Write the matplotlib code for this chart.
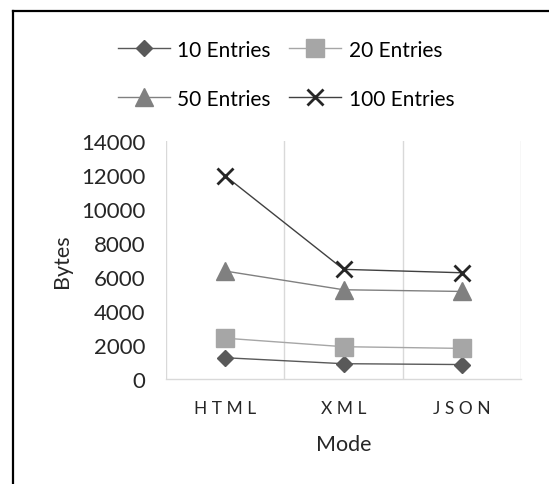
import matplotlib
matplotlib.use("Agg")
import matplotlib.pyplot as plt
from matplotlib.lines import Line2D

plt.rcParams['font.family'] = ['Lato', 'DejaVu Sans']

modes = ["HTML", "XML", "JSON"]
mode_labels = ["H T M L", "X M L", "J S O N"]
series_names = ["10 Entries", "20 Entries", "50 Entries", "100 Entries"]
entries_10 = [1250, 900, 850]
entries_20 = [2400, 1900, 1800]
entries_50 = [6350, 5250, 5150]
entries_100 = [11950, 6450, 6250]
y_ticks = [0, 2000, 4000, 6000, 8000, 10000, 12000, 14000]

styles = [
    dict(marker="D", ms=8.5, color="#595959", mfc="#595959", mec="#595959", lw=1.0),
    dict(marker="s", ms=12.5, color="#a6a6a6", mfc="#a6a6a6", mec="#a6a6a6", lw=1.0),
    dict(marker="^", ms=12.5, color="#808080", mfc="#808080", mec="#808080", lw=1.0),
    dict(marker="x", ms=11.5, color="#404040", mfc="#262626", mec="#262626", lw=1.0, mew=2.0),
]

fig = plt.figure(figsize=(5.49, 4.85), dpi=100)
ax = fig.add_axes([0.3024, 0.2165, 0.6466, 0.4907])

x = list(range(len(modes)))
handles = []
for name, vals, st in zip(series_names, [entries_10, entries_20, entries_50, entries_100], styles):
    h, = ax.plot(x, vals, label=name, **st)
    handles.append(h)

ax.set_xlim(-0.5, len(modes) - 0.5)
ax.set_ylim(0, 14000)
ax.set_yticks(y_ticks)
ax.set_yticklabels([str(v) for v in y_ticks], fontsize=16, color="#262626")
ax.set_xticks(x)
ax.set_xticklabels(mode_labels, fontsize=12.5, color="#262626")
ax.tick_params(axis="both", length=0)
ax.tick_params(axis="y", pad=15)
ax.tick_params(axis="x", pad=15)

# vertical separators between categories
for b in [i - 0.5 for i in range(len(modes) + 1)]:
    ax.axvline(b, color="#d9d9d9", lw=1.0, zorder=0)

for side in ["left", "right", "top"]:
    ax.spines[side].set_visible(False)
ax.spines["bottom"].set_color("#d9d9d9")
ax.spines["bottom"].set_linewidth(1.0)

ax.set_ylabel("Bytes", fontsize=15.5, color="#262626", labelpad=6)
ax.set_xlabel("Mode", fontsize=15.5, color="#262626", labelpad=13)

order = [0, 2, 1, 3]
fig.legend([handles[i] for i in order], [series_names[i] for i in order],
           ncol=2, loc="upper center", bbox_to_anchor=(0.521, 0.955),
           frameon=False, fontsize=15, handlelength=2.5,
           handletextpad=0.35, columnspacing=0.9, labelspacing=1.4)

# chart frame (top and left edges)
fig.add_artist(Line2D([12.5 / 549, 1.0], [1 - 11.5 / 485, 1 - 11.5 / 485],
                      transform=fig.transFigure, color="black", lw=1.6))
fig.add_artist(Line2D([12.5 / 549, 12.5 / 549], [0.0, 1 - 11.5 / 485],
                      transform=fig.transFigure, color="black", lw=1.6))

fig.savefig("out.png", dpi=100, facecolor="white")
